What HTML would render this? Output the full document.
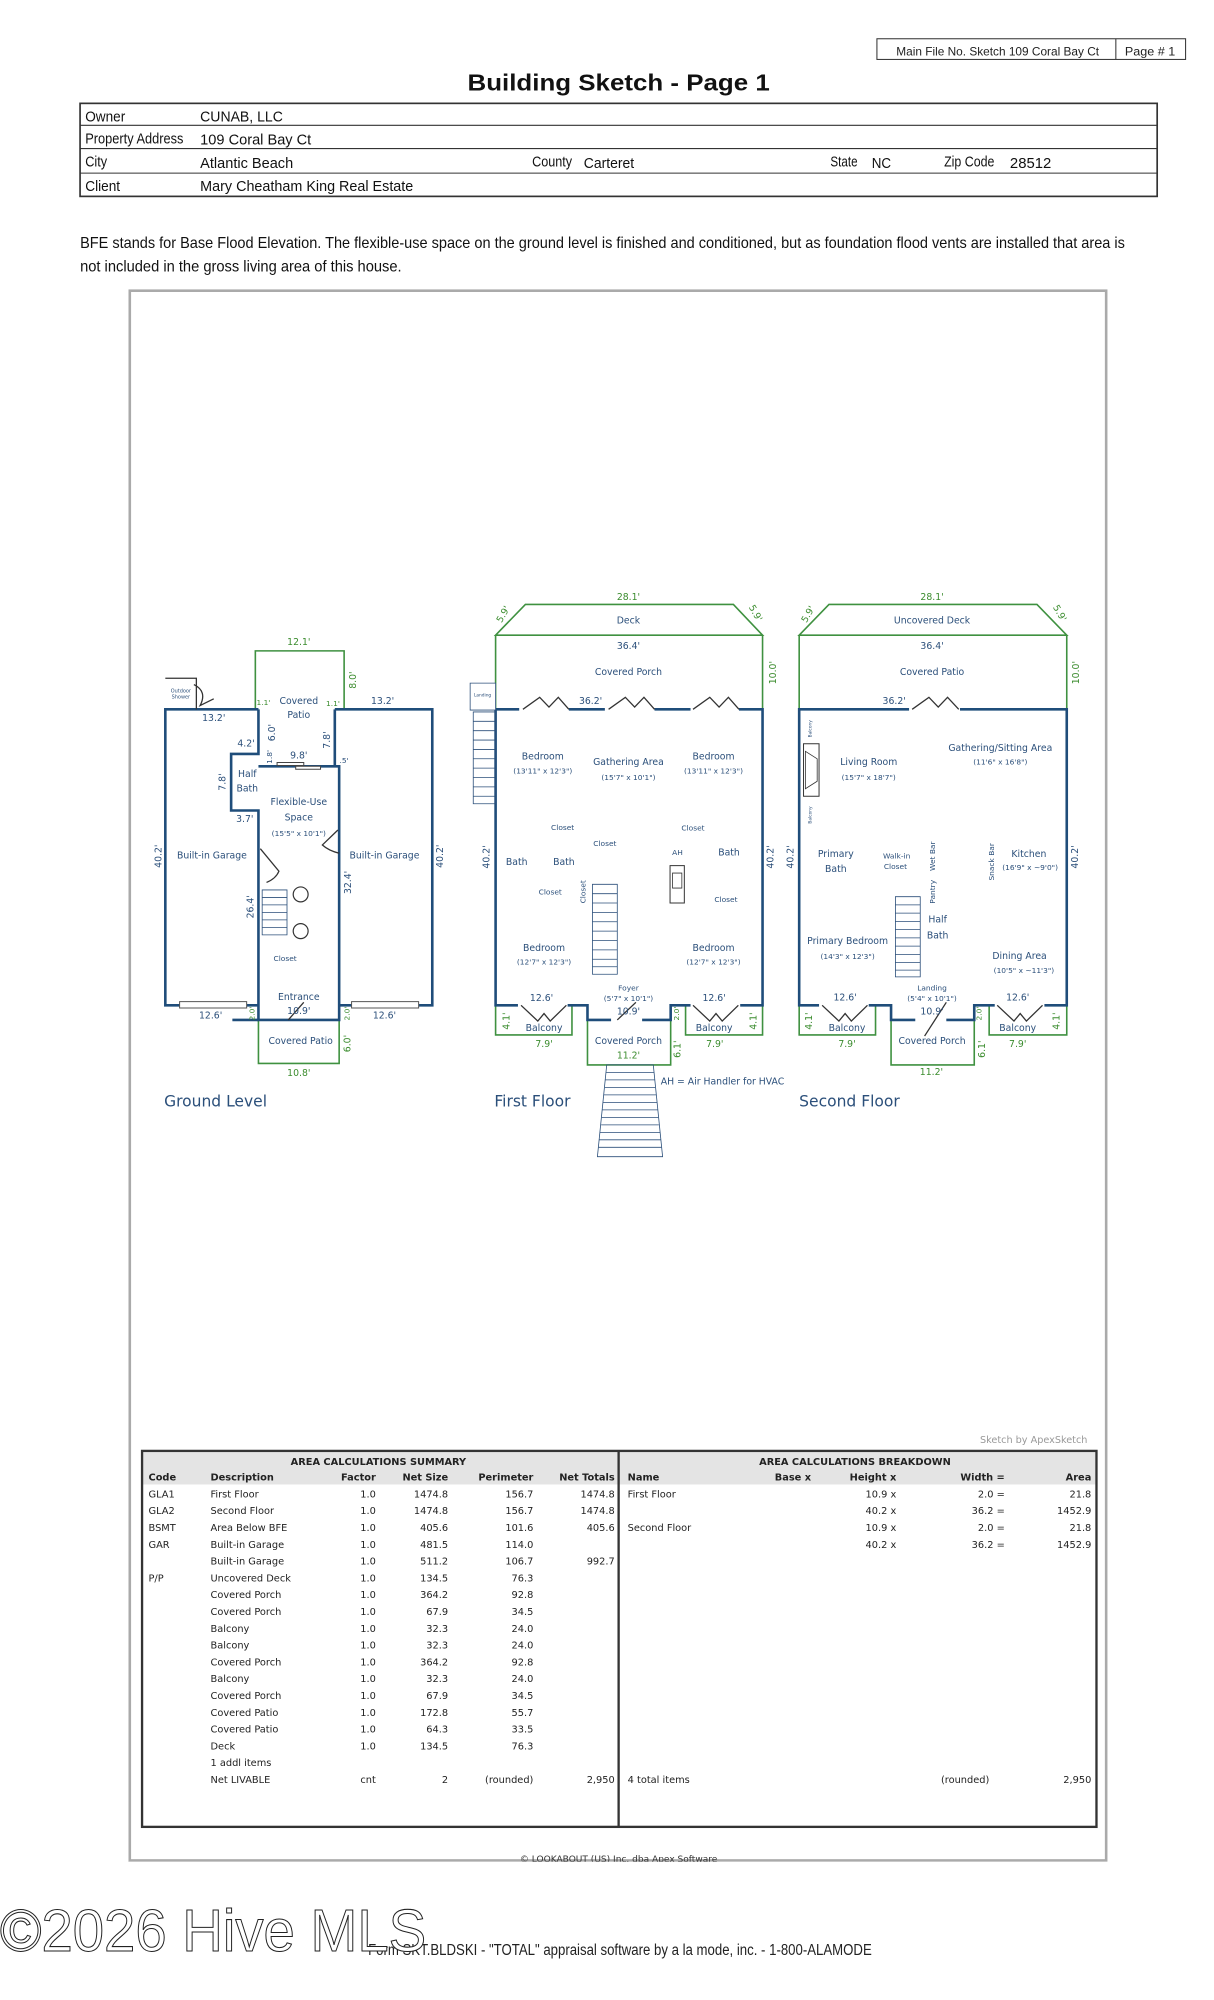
<!DOCTYPE html>
<html><head><meta charset="utf-8"><style>
html,body{margin:0;padding:0;background:#fff;}
svg{display:block}
.n{font-family:"Liberation Sans",sans-serif;}
.p *{vector-effect:non-scaling-stroke}
.t{font-family:"DejaVu Sans",sans-serif;font-size:15px;fill:#2b4f7a;text-anchor:middle;dominant-baseline:central}
.g{fill:#3b8c2e}
.s{font-size:12px}
.w{stroke:#1f4d7a;stroke-width:2.6;fill:none}
.gr{stroke:#3f9140;stroke-width:1.6;fill:none}
.d{stroke:#333;stroke-width:1.3;fill:none}
.th{stroke:#2b4f7a;stroke-width:0.8;fill:none}
.tb{font-family:"DejaVu Sans",sans-serif;font-size:7.6px;fill:#222}
.tb .h{font-weight:bold}
</style></head><body>
<svg width="1214" height="2000" viewBox="0 0 940 1548" preserveAspectRatio="none" xmlns="http://www.w3.org/2000/svg">
<rect width="940" height="1548" fill="#fff"/>
<!-- header -->
<rect x="679" y="30" width="239" height="16" fill="none" stroke="#333" stroke-width="0.8"/>
<line x1="864" y1="30" x2="864" y2="46" stroke="#333" stroke-width="0.8"/>
<text class="n" x="694" y="43" font-size="9.5" fill="#222" textLength="157" lengthAdjust="spacingAndGlyphs">Main File No. Sketch 109 Coral Bay Ct</text>
<text class="n" x="871" y="43" font-size="9.5" fill="#222" textLength="39" lengthAdjust="spacingAndGlyphs">Page # 1</text>
<text class="n" x="362" y="70" font-size="18" font-weight="bold" fill="#111" textLength="234" lengthAdjust="spacingAndGlyphs">Building Sketch - Page 1</text>
<rect x="62" y="80" width="834" height="72" fill="none" stroke="#333" stroke-width="1.3"/>
<g stroke="#333" stroke-width="0.8"><line x1="62" y1="97" x2="896" y2="97"/><line x1="62" y1="115" x2="896" y2="115"/><line x1="62" y1="134" x2="896" y2="134"/></g>
<g class="n" font-size="11.5" fill="#111" lengthAdjust="spacingAndGlyphs">
<text x="66" y="94" textLength="31" lengthAdjust="spacingAndGlyphs">Owner</text><text x="155" y="94" textLength="64" lengthAdjust="spacingAndGlyphs">CUNAB, LLC</text>
<text x="66" y="111" textLength="76" lengthAdjust="spacingAndGlyphs">Property Address</text><text x="155" y="112" textLength="86" lengthAdjust="spacingAndGlyphs">109 Coral Bay Ct</text>
<text x="66" y="129" textLength="17" lengthAdjust="spacingAndGlyphs">City</text><text x="155" y="130" textLength="72" lengthAdjust="spacingAndGlyphs">Atlantic Beach</text>
<text x="412" y="129" textLength="31" lengthAdjust="spacingAndGlyphs">County</text><text x="452" y="130" textLength="39" lengthAdjust="spacingAndGlyphs">Carteret</text>
<text x="643" y="129" textLength="21" lengthAdjust="spacingAndGlyphs">State</text><text x="675" y="130" textLength="15" lengthAdjust="spacingAndGlyphs">NC</text>
<text x="731" y="129" textLength="39" lengthAdjust="spacingAndGlyphs">Zip Code</text><text x="782" y="130" textLength="32" lengthAdjust="spacingAndGlyphs">28512</text>
<text x="66" y="148" textLength="27" lengthAdjust="spacingAndGlyphs">Client</text><text x="155" y="148" textLength="165" lengthAdjust="spacingAndGlyphs">Mary Cheatham King Real Estate</text>
</g>
<g class="n" font-size="11.8" fill="#111">
<text x="62" y="192" textLength="809" lengthAdjust="spacingAndGlyphs">BFE stands for Base Flood Elevation. The flexible-use space on the ground level is finished and conditioned, but as foundation flood vents are installed that area is</text>
<text x="62" y="210" textLength="249" lengthAdjust="spacingAndGlyphs">not included in the gross living area of this house.</text>
</g>
<rect x="100.5" y="225" width="756" height="1215" fill="none" stroke="#aaa" stroke-width="2"/>

<!-- PLANS -->
<g class="p" transform="translate(93.4 453.9) scale(0.4807 0.29)">
<!-- Ground level -->
<polyline class="gr" points="217,328 217,172 360,172 360,328"/>
<polyline class="gr" points="222,1157 222,1273 352,1273 352,1157"/>
<path class="w" d="M222 328 H72 V1118 H222 M345 328 H502 V1118 H352 M222 328 V447 H178 V598 H222 V1157 H352 V480 H345 V328 M222 480 H352"/>
<rect x="252" y="470" width="43" height="8" fill="#fff" stroke="#444" stroke-width="1"/>
<rect x="282" y="480" width="40" height="8" fill="#fff" stroke="#444" stroke-width="1"/>
<rect x="95" y="1108" width="108" height="17" fill="#fff" stroke="#555" stroke-width="1"/>
<rect x="372" y="1108" width="108" height="17" fill="#fff" stroke="#555" stroke-width="1"/>
<path class="d" d="M225 700 L255 760 Q250 780 235 790 M350 650 L325 690 Q335 705 352 712 M270 1157 L295 1110 M72 245 H122 V328 M118 262 Q140 280 128 318 L150 300"/>
<line x1="180" y1="1157" x2="222" y2="1157" class="w"/>
<g class="th"><rect x="228" y="810" width="40" height="120"/><line x1="228" y1="830" x2="268" y2="830"/><line x1="228" y1="850" x2="268" y2="850"/><line x1="228" y1="870" x2="268" y2="870"/><line x1="228" y1="890" x2="268" y2="890"/><line x1="228" y1="910" x2="268" y2="910"/></g>
<ellipse cx="290" cy="822" rx="12" ry="20" fill="#fff" stroke="#333" stroke-width="1.2"/>
<ellipse cx="290" cy="920" rx="12" ry="20" fill="#fff" stroke="#333" stroke-width="1.2"/>

<!-- First floor -->
<polygon class="gr" points="604,130 652,48 987,48 1034,130"/>
<polyline class="gr" points="604,130 604,328"/><polyline class="gr" points="1034,130 1034,328"/>
<polyline class="gr" points="604,1118 604,1197 727,1197 727,1118"/>
<polyline class="gr" points="910,1118 910,1197 1034,1197 1034,1118"/>
<polyline class="gr" points="752,1157 752,1277 886,1277 886,1157"/>
<path class="w" d="M604 328 H1034 V1118 H886 V1157 H752 V1118 H604 Z"/>
<g fill="#fff" stroke="none"><rect x="642" y="318" width="80" height="20"/><rect x="780" y="318" width="80" height="20"/><rect x="918" y="318" width="78" height="20"/>
<rect x="640" y="1110" width="80" height="16"/><rect x="918" y="1110" width="80" height="16"/><rect x="790" y="1150" width="50" height="16"/></g>
<path class="d" d="M648 328 L675 296 L690 322 L705 296 L722 328 M786 328 L813 296 L828 322 L843 296 L860 328 M922 328 L949 296 L964 322 L979 296 L996 328 M645 1118 L672 1160 L682 1140 L692 1160 L718 1118 M922 1118 L949 1160 L959 1140 L969 1160 L995 1118 M800 1157 L830 1110"/>
<rect x="563" y="258" width="41" height="72" fill="#fff" stroke="#2b4f7a" stroke-width="0.8"/>
<g class="th"><rect x="568" y="335" width="36" height="245"/><line x1="568" y1="360" x2="604" y2="360"/><line x1="568" y1="385" x2="604" y2="385"/><line x1="568" y1="410" x2="604" y2="410"/><line x1="568" y1="435" x2="604" y2="435"/><line x1="568" y1="460" x2="604" y2="460"/><line x1="568" y1="485" x2="604" y2="485"/><line x1="568" y1="510" x2="604" y2="510"/><line x1="568" y1="535" x2="604" y2="535"/><line x1="568" y1="560" x2="604" y2="560"/>
<rect x="760" y="795" width="40" height="240"/><line x1="760" y1="820" x2="800" y2="820"/><line x1="760" y1="845" x2="800" y2="845"/><line x1="760" y1="870" x2="800" y2="870"/><line x1="760" y1="895" x2="800" y2="895"/><line x1="760" y1="920" x2="800" y2="920"/><line x1="760" y1="945" x2="800" y2="945"/><line x1="760" y1="970" x2="800" y2="970"/><line x1="760" y1="995" x2="800" y2="995"/><line x1="760" y1="1015" x2="800" y2="1015"/>
<polygon points="783,1277 858,1277 873,1522 768,1522"/>
<line x1="782" y1="1297" x2="859" y2="1297"/><line x1="781" y1="1317" x2="860" y2="1317"/><line x1="780" y1="1337" x2="861" y2="1337"/><line x1="778" y1="1357" x2="863" y2="1357"/><line x1="777" y1="1377" x2="864" y2="1377"/><line x1="776" y1="1397" x2="865" y2="1397"/><line x1="775" y1="1417" x2="866" y2="1417"/><line x1="774" y1="1437" x2="867" y2="1437"/><line x1="772" y1="1457" x2="869" y2="1457"/><line x1="771" y1="1477" x2="870" y2="1477"/><line x1="770" y1="1497" x2="871" y2="1497"/></g>
<rect x="885" y="745" width="23" height="100" fill="#fff" stroke="#333" stroke-width="1"/>
<rect x="889" y="765" width="15" height="40" fill="#fff" stroke="#333" stroke-width="0.8"/>

<!-- Second floor -->
<polygon class="gr" points="1093,130 1141,48 1476,48 1524,130"/>
<polyline class="gr" points="1093,130 1093,328"/><polyline class="gr" points="1524,130 1524,328"/>
<polyline class="gr" points="1093,1118 1093,1197 1216,1197 1216,1118"/>
<polyline class="gr" points="1399,1118 1399,1197 1524,1197 1524,1118"/>
<polyline class="gr" points="1241,1157 1241,1277 1375,1277 1375,1157"/>
<path class="w" d="M1093 328 H1524 V1118 H1375 V1157 H1241 V1118 H1093 Z"/>
<g fill="#fff"><rect x="1270" y="318" width="82" height="20"/><rect x="1125" y="1110" width="80" height="16"/><rect x="1408" y="1110" width="80" height="16"/><rect x="1280" y="1150" width="50" height="16"/></g>
<path class="d" d="M1275 328 L1302 296 L1317 322 L1332 296 L1350 328 M1130 1118 L1157 1160 L1167 1140 L1177 1160 L1203 1118 M1412 1118 L1439 1160 L1449 1140 L1459 1160 L1485 1118 M1295 1200 L1330 1110"/>
<rect x="1100" y="420" width="25" height="140" fill="#fff" stroke="#333" stroke-width="1"/>
<polygon points="1103,440 1122,460 1122,520 1103,540" fill="none" stroke="#333" stroke-width="0.8"/>
<g class="th"><rect x="1248" y="828" width="40" height="214"/><line x1="1248" y1="850" x2="1288" y2="850"/><line x1="1248" y1="872" x2="1288" y2="872"/><line x1="1248" y1="894" x2="1288" y2="894"/><line x1="1248" y1="916" x2="1288" y2="916"/><line x1="1248" y1="938" x2="1288" y2="938"/><line x1="1248" y1="960" x2="1288" y2="960"/><line x1="1248" y1="982" x2="1288" y2="982"/><line x1="1248" y1="1004" x2="1288" y2="1004"/><line x1="1248" y1="1024" x2="1288" y2="1024"/></g>

<!-- Texts ground -->
<g class="t">
<text class="g" transform="translate(287 150) scale(1 1.658)">12.1'</text>
<text class="g" transform="translate(375 250) scale(1 1.658) rotate(-90)">8.0'</text>
<text class="g s" transform="translate(230 310) scale(1 1.658)">1.1'</text>
<text class="g s" transform="translate(342 312) scale(1 1.658)">1.1'</text>
<text class="g s" transform="translate(212 1140) scale(1 1.658) rotate(-90)">2.0'</text>
<text class="g s" transform="translate(365 1140) scale(1 1.658) rotate(-90)">2.0'</text>
<text class="g" transform="translate(366 1220) scale(1 1.658) rotate(-90)">6.0'</text>
<text class="g" transform="translate(287 1300) scale(1 1.658)">10.8'</text>
<text transform="translate(287 307) scale(1 1.658)">Covered</text>
<text transform="translate(287 345) scale(1 1.658)">Patio</text>
<text transform="translate(150 352) scale(1 1.658)">13.2'</text>
<text transform="translate(422 307) scale(1 1.658)">13.2'</text>
<text transform="translate(245 390) scale(1 1.658) rotate(-90)">6.0'</text>
<text transform="translate(333 410) scale(1 1.658) rotate(-90)">7.8'</text>
<text transform="translate(202 420) scale(1 1.658)">4.2'</text>
<text class="s" transform="translate(240 455) scale(1 1.658) rotate(-90)">1.8'</text>
<text transform="translate(287 452) scale(1 1.658)">9.8'</text>
<text class="s" transform="translate(360 465) scale(1 1.658)">.5'</text>
<text transform="translate(204 502) scale(1 1.658)">Half</text>
<text transform="translate(204 540) scale(1 1.658)">Bath</text>
<text transform="translate(165 522) scale(1 1.658) rotate(-90)">7.8'</text>
<text transform="translate(200 622) scale(1 1.658)">3.7'</text>
<text transform="translate(287 577) scale(1 1.658)">Flexible-Use</text>
<text transform="translate(287 618) scale(1 1.658)">Space</text>
<text class="s" transform="translate(287 660) scale(1 1.658)">(15'5" x 10'1")</text>
<text transform="translate(147 720) scale(1 1.658)">Built-in Garage</text>
<text transform="translate(425 720) scale(1 1.658)">Built-in Garage</text>
<text transform="translate(62 720) scale(1 1.658) rotate(-90)">40.2'</text>
<text transform="translate(515 720) scale(1 1.658) rotate(-90)">40.2'</text>
<text transform="translate(367 790) scale(1 1.658) rotate(-90)">32.4'</text>
<text transform="translate(210 855) scale(1 1.658) rotate(-90)">26.4'</text>
<text class="s" transform="translate(265 993) scale(1 1.658)">Closet</text>
<text transform="translate(287 1097) scale(1 1.658)">Entrance</text>
<text transform="translate(287 1135) scale(1 1.658)">10.9'</text>
<text transform="translate(145 1146) scale(1 1.658)">12.6'</text>
<text transform="translate(425 1146) scale(1 1.658)">12.6'</text>
<text transform="translate(290 1215) scale(1 1.658)">Covered Patio</text>
<text class="s" style="font-size:8px" transform="translate(97 280) scale(1 1.658)">Outdoor</text>
<text class="s" style="font-size:8px" transform="translate(97 297) scale(1 1.658)">Shower</text>
<text style="font-size:25px;text-anchor:start" transform="translate(70 1375) scale(1 1.658)">Ground Level</text>
</g>

<!-- Texts first floor -->
<g class="t">
<text class="g" transform="translate(818 30) scale(1 1.658)">28.1'</text>
<text class="g" transform="translate(617 75) scale(1 1.658) rotate(-60)">5.9'</text>
<text class="g" transform="translate(1022 72) scale(1 1.658) rotate(60)">5.9'</text>
<text class="g" transform="translate(1052 230) scale(1 1.658) rotate(-90)">10.0'</text>
<text class="g" transform="translate(622 1160) scale(1 1.658) rotate(-90)">4.1'</text>
<text class="g" transform="translate(682 1222) scale(1 1.658)">7.9'</text>
<text class="g" transform="translate(898 1235) scale(1 1.658) rotate(-90)">6.1'</text>
<text class="g" transform="translate(957 1222) scale(1 1.658)">7.9'</text>
<text class="g" transform="translate(1020 1160) scale(1 1.658) rotate(-90)">4.1'</text>
<text class="g s" transform="translate(895 1140) scale(1 1.658) rotate(-90)">2.0'</text>
<text class="g" transform="translate(818 1253) scale(1 1.658)">11.2'</text>
<text transform="translate(818 92) scale(1 1.658)">Deck</text>
<text transform="translate(818 160) scale(1 1.658)">36.4'</text>
<text transform="translate(818 230) scale(1 1.658)">Covered Porch</text>
<text transform="translate(757 307) scale(1 1.658)">36.2'</text>
<text transform="translate(680 455) scale(1 1.658)">Bedroom</text>
<text class="s" transform="translate(680 492) scale(1 1.658)">(13'11" x 12'3")</text>
<text transform="translate(818 470) scale(1 1.658)">Gathering Area</text>
<text class="s" transform="translate(818 510) scale(1 1.658)">(15'7" x 10'1")</text>
<text transform="translate(955 455) scale(1 1.658)">Bedroom</text>
<text class="s" transform="translate(955 492) scale(1 1.658)">(13'11" x 12'3")</text>
<text class="s" transform="translate(712 643) scale(1 1.658)">Closet</text>
<text class="s" transform="translate(780 686) scale(1 1.658)">Closet</text>
<text class="s" transform="translate(922 645) scale(1 1.658)">Closet</text>
<text class="s" transform="translate(897 710) scale(1 1.658)">AH</text>
<text transform="translate(638 737) scale(1 1.658)">Bath</text>
<text transform="translate(714 737) scale(1 1.658)">Bath</text>
<text transform="translate(980 712) scale(1 1.658)">Bath</text>
<text class="s" transform="translate(692 816) scale(1 1.658)">Closet</text>
<text class="s" transform="translate(975 836) scale(1 1.658)">Closet</text>
<text class="s" transform="translate(745 815) scale(1 1.658) rotate(-90)">Closet</text>
<text transform="translate(590 722) scale(1 1.658) rotate(-90)">40.2'</text>
<text transform="translate(1048 722) scale(1 1.658) rotate(-90)">40.2'</text>
<text transform="translate(682 966) scale(1 1.658)">Bedroom</text>
<text class="s" transform="translate(682 1003) scale(1 1.658)">(12'7" x 12'3")</text>
<text transform="translate(955 966) scale(1 1.658)">Bedroom</text>
<text class="s" transform="translate(955 1003) scale(1 1.658)">(12'7" x 12'3")</text>
<text class="s" transform="translate(818 1072) scale(1 1.658)">Foyer</text>
<text class="s" transform="translate(818 1100) scale(1 1.658)">(5'7" x 10'1")</text>
<text transform="translate(678 1100) scale(1 1.658)">12.6'</text>
<text transform="translate(956 1100) scale(1 1.658)">12.6'</text>
<text transform="translate(818 1136) scale(1 1.658)">10.9'</text>
<text transform="translate(682 1180) scale(1 1.658)">Balcony</text>
<text transform="translate(956 1180) scale(1 1.658)">Balcony</text>
<text transform="translate(818 1215) scale(1 1.658)">Covered Porch</text>
<text class="s" style="font-size:7px" transform="translate(583 293) scale(1 1.658)">Landing</text>
<text style="text-anchor:start" transform="translate(870 1322) scale(1 1.658)">AH = Air Handler for HVAC</text>
<text style="font-size:25px;text-anchor:start" transform="translate(602 1375) scale(1 1.658)">First Floor</text>
</g>

<!-- Texts second floor -->
<g class="t">
<text class="g" transform="translate(1307 30) scale(1 1.658)">28.1'</text>
<text class="g" transform="translate(1108 75) scale(1 1.658) rotate(-60)">5.9'</text>
<text class="g" transform="translate(1512 72) scale(1 1.658) rotate(60)">5.9'</text>
<text class="g" transform="translate(1540 230) scale(1 1.658) rotate(-90)">10.0'</text>
<text class="g" transform="translate(1110 1160) scale(1 1.658) rotate(-90)">4.1'</text>
<text class="g" transform="translate(1170 1222) scale(1 1.658)">7.9'</text>
<text class="g" transform="translate(1388 1235) scale(1 1.658) rotate(-90)">6.1'</text>
<text class="g" transform="translate(1445 1222) scale(1 1.658)">7.9'</text>
<text class="g" transform="translate(1508 1160) scale(1 1.658) rotate(-90)">4.1'</text>
<text class="g s" transform="translate(1383 1140) scale(1 1.658) rotate(-90)">2.0'</text>
<text class="g" transform="translate(1306 1297) scale(1 1.658)">11.2'</text>
<text transform="translate(1307 92) scale(1 1.658)">Uncovered Deck</text>
<text transform="translate(1307 160) scale(1 1.658)">36.4'</text>
<text transform="translate(1307 230) scale(1 1.658)">Covered Patio</text>
<text transform="translate(1246 307) scale(1 1.658)">36.2'</text>
<text class="s" style="font-size:7px" transform="translate(1112 380) scale(1 1.658) rotate(-90)">Balcony</text>
<text class="s" style="font-size:7px" transform="translate(1112 610) scale(1 1.658) rotate(-90)">Balcony</text>
<text transform="translate(1205 470) scale(1 1.658)">Living Room</text>
<text class="s" transform="translate(1205 510) scale(1 1.658)">(15'7" x 18'7")</text>
<text transform="translate(1417 432) scale(1 1.658)">Gathering/Sitting Area</text>
<text class="s" transform="translate(1417 468) scale(1 1.658)">(11'6" x 16'8")</text>
<text transform="translate(1152 715) scale(1 1.658)">Primary</text>
<text transform="translate(1152 755) scale(1 1.658)">Bath</text>
<text class="s" transform="translate(1250 720) scale(1 1.658)">Walk-in</text>
<text class="s" transform="translate(1248 748) scale(1 1.658)">Closet</text>
<text class="s" transform="translate(1308 720) scale(1 1.658) rotate(-90)">Wet Bar</text>
<text class="s" transform="translate(1308 815) scale(1 1.658) rotate(-90)">Pantry</text>
<text class="s" transform="translate(1403 735) scale(1 1.658) rotate(-90)">Snack Bar</text>
<text transform="translate(1463 715) scale(1 1.658)">Kitchen</text>
<text class="s" transform="translate(1465 750) scale(1 1.658)">(16'9" x ~9'0")</text>
<text transform="translate(1316 890) scale(1 1.658)">Half</text>
<text transform="translate(1316 933) scale(1 1.658)">Bath</text>
<text transform="translate(1171 948) scale(1 1.658)">Primary Bedroom</text>
<text class="s" transform="translate(1171 988) scale(1 1.658)">(14'3" x 12'3")</text>
<text transform="translate(1448 988) scale(1 1.658)">Dining Area</text>
<text class="s" transform="translate(1455 1025) scale(1 1.658)">(10'5" x ~11'3")</text>
<text class="s" transform="translate(1307 1072) scale(1 1.658)">Landing</text>
<text class="s" transform="translate(1307 1100) scale(1 1.658)">(5'4" x 10'1")</text>
<text transform="translate(1167 1098) scale(1 1.658)">12.6'</text>
<text transform="translate(1445 1098) scale(1 1.658)">12.6'</text>
<text transform="translate(1307 1136) scale(1 1.658)">10.9'</text>
<text transform="translate(1170 1180) scale(1 1.658)">Balcony</text>
<text transform="translate(1445 1180) scale(1 1.658)">Balcony</text>
<text transform="translate(1307 1215) scale(1 1.658)">Covered Porch</text>
<text transform="translate(1080 722) scale(1 1.658) rotate(-90)">40.2'</text>
<text transform="translate(1538 722) scale(1 1.658) rotate(-90)">40.2'</text>
<text style="font-size:25px;text-anchor:start" transform="translate(1093 1375) scale(1 1.658)">Second Floor</text>
</g>
</g>

<!-- Table -->
<text x="842" y="1117" font-family="DejaVu Sans,sans-serif" font-size="7.5" fill="#999" text-anchor="end">Sketch by ApexSketch</text>
<rect x="110" y="1123" width="739" height="26" fill="#e4e4e4"/>
<rect x="110" y="1123" width="739" height="291" fill="none" stroke="#333" stroke-width="1.8"/>
<line x1="479" y1="1123" x2="479" y2="1414" stroke="#333" stroke-width="1.8"/>
<g class="tb">
<text class="h" x="293" y="1134" text-anchor="middle">AREA CALCULATIONS SUMMARY</text>
<text class="h" x="662" y="1134" text-anchor="middle">AREA CALCULATIONS BREAKDOWN</text>
<text class="h" x="115" y="1146">Code</text><text class="h" x="163" y="1146">Description</text>
<g text-anchor="end"><text class="h" x="291" y="1146">Factor</text><text class="h" x="347" y="1146">Net Size</text><text class="h" x="413" y="1146">Perimeter</text><text class="h" x="476" y="1146">Net Totals</text>
<text class="h" x="628" y="1146">Base  x</text><text class="h" x="694" y="1146">Height  x</text><text class="h" x="778" y="1146">Width  =</text><text class="h" x="845" y="1146">Area</text></g>
<text class="h" x="486" y="1146">Name</text>
</g>
<g class="tb">
<text x="115" y="1159">GLA1</text><text x="115" y="1172">GLA2</text><text x="115" y="1185">BSMT</text><text x="115" y="1198">GAR</text><text x="115" y="1224">P/P</text>
<text x="163" y="1159">First Floor</text><text x="163" y="1172">Second Floor</text><text x="163" y="1185">Area Below BFE</text><text x="163" y="1198">Built-in Garage</text><text x="163" y="1211">Built-in Garage</text><text x="163" y="1224">Uncovered Deck</text><text x="163" y="1237">Covered Porch</text><text x="163" y="1250">Covered Porch</text><text x="163" y="1263">Balcony</text><text x="163" y="1276">Balcony</text><text x="163" y="1289">Covered Porch</text><text x="163" y="1302">Balcony</text><text x="163" y="1315">Covered Porch</text><text x="163" y="1328">Covered Patio</text><text x="163" y="1341">Covered Patio</text><text x="163" y="1354">Deck</text><text x="163" y="1367">1 addl items</text><text x="163" y="1380">Net LIVABLE</text>
<g text-anchor="end">
<text x="291" y="1159">1.0</text><text x="291" y="1172">1.0</text><text x="291" y="1185">1.0</text><text x="291" y="1198">1.0</text><text x="291" y="1211">1.0</text><text x="291" y="1224">1.0</text><text x="291" y="1237">1.0</text><text x="291" y="1250">1.0</text><text x="291" y="1263">1.0</text><text x="291" y="1276">1.0</text><text x="291" y="1289">1.0</text><text x="291" y="1302">1.0</text><text x="291" y="1315">1.0</text><text x="291" y="1328">1.0</text><text x="291" y="1341">1.0</text><text x="291" y="1354">1.0</text><text x="291" y="1380">cnt</text>
<text x="347" y="1159">1474.8</text><text x="347" y="1172">1474.8</text><text x="347" y="1185">405.6</text><text x="347" y="1198">481.5</text><text x="347" y="1211">511.2</text><text x="347" y="1224">134.5</text><text x="347" y="1237">364.2</text><text x="347" y="1250">67.9</text><text x="347" y="1263">32.3</text><text x="347" y="1276">32.3</text><text x="347" y="1289">364.2</text><text x="347" y="1302">32.3</text><text x="347" y="1315">67.9</text><text x="347" y="1328">172.8</text><text x="347" y="1341">64.3</text><text x="347" y="1354">134.5</text><text x="347" y="1380">2</text>
<text x="413" y="1159">156.7</text><text x="413" y="1172">156.7</text><text x="413" y="1185">101.6</text><text x="413" y="1198">114.0</text><text x="413" y="1211">106.7</text><text x="413" y="1224">76.3</text><text x="413" y="1237">92.8</text><text x="413" y="1250">34.5</text><text x="413" y="1263">24.0</text><text x="413" y="1276">24.0</text><text x="413" y="1289">92.8</text><text x="413" y="1302">24.0</text><text x="413" y="1315">34.5</text><text x="413" y="1328">55.7</text><text x="413" y="1341">33.5</text><text x="413" y="1354">76.3</text><text x="413" y="1380">(rounded)</text>
<text x="476" y="1159">1474.8</text><text x="476" y="1172">1474.8</text><text x="476" y="1185">405.6</text><text x="476" y="1211">992.7</text><text x="476" y="1380">2,950</text>
<text x="694" y="1159">10.9  x</text><text x="694" y="1172">40.2  x</text><text x="694" y="1185">10.9  x</text><text x="694" y="1198">40.2  x</text>
<text x="778" y="1159">2.0  =</text><text x="778" y="1172">36.2  =</text><text x="778" y="1185">2.0  =</text><text x="778" y="1198">36.2  =</text>
<text x="845" y="1159">21.8</text><text x="845" y="1172">1452.9</text><text x="845" y="1185">21.8</text><text x="845" y="1198">1452.9</text>
<text x="766" y="1380">(rounded)</text><text x="845" y="1380">2,950</text>
</g>
<text x="486" y="1159">First Floor</text><text x="486" y="1185">Second Floor</text><text x="486" y="1380">4 total items</text>
</g>
<text x="479" y="1441" font-family="DejaVu Sans,sans-serif" font-size="7" fill="#333" text-anchor="middle">© LOOKABOUT (US) Inc. dba Apex Software</text>
<rect x="100" y="1441" width="758" height="6" fill="#fff"/>

<!-- footer -->
<text class="n" x="285" y="1513" font-size="12" fill="#222" textLength="390" lengthAdjust="spacingAndGlyphs">Form SKT.BLDSKI - "TOTAL" appraisal software by a la mode, inc. - 1-800-ALAMODE</text>
<text x="0" y="1510" font-family="Liberation Sans,sans-serif" font-size="46" fill="#fff" stroke="#222" stroke-width="0.8" textLength="330" lengthAdjust="spacingAndGlyphs">©2026 Hive MLS</text>
</svg>
</body></html>
